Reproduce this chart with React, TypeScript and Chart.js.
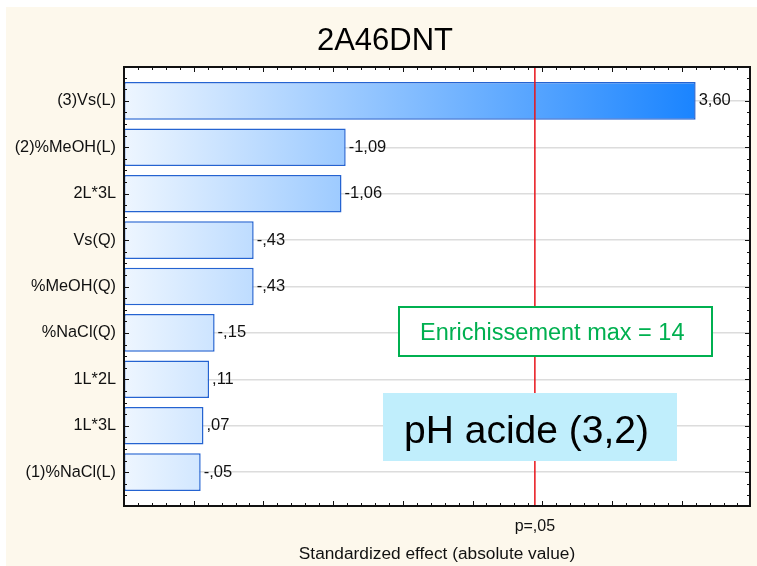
import React, { useEffect, useRef } from "react";
import { Chart, registerables } from "chart.js";

Chart.register(...registerables);

// ---------- data ----------
const categories = [
  "(3)Vs(L)",
  "(2)%MeOH(L)",
  "2L*3L",
  "Vs(Q)",
  "%MeOH(Q)",
  "%NaCl(Q)",
  "1L*2L",
  "1L*3L",
  "(1)%NaCl(L)",
];
const effects = [3.6, -1.09, -1.06, -0.43, -0.43, -0.15, 0.11, 0.07, -0.05];
const criticalT = 2.447;
const criticalLabel = "p=,05";
const chartTitle = "2A46DNT";
const xAxisTitle = "Standardized effect (absolute value)";
const noteGreen = "Enrichissement max = 14";
const noteBlue = "pH acide (3,2)";
const xMin = -0.5;
const xMax = 3.99;
const yMin = -0.73;
const yMax = 8.73;

const FONT = "'Liberation Sans', Arial, sans-serif";

function fmt(v: number): string {
  const s = Math.abs(v).toFixed(2).replace(".", ",");
  const t = s.startsWith("0,") ? s.slice(1) : s;
  return (v < 0 ? "-" : "") + t;
}

const decor = {
  id: "decor",
  beforeDraw(chart: any) {
    const { ctx, chartArea: a, width, height } = chart;
    ctx.save();
    ctx.fillStyle = "#ffffff";
    ctx.fillRect(0, 0, width, height);
    ctx.fillStyle = "#FDF8EC";
    ctx.fillRect(6, 7, width - 6, height - 7);
    ctx.fillStyle = "#ffffff";
    ctx.fillRect(a.left, a.top, a.right - a.left, a.bottom - a.top);
    // chart title
    ctx.fillStyle = "#000";
    ctx.font = `31px ${FONT}`;
    ctx.textAlign = "center";
    ctx.textBaseline = "middle";
    ctx.fillText(chartTitle, 385, 41);
    ctx.restore();
  },
  afterDatasetsDraw(chart: any) {
    const { ctx } = chart;
    const xs = chart.scales.x;
    const ys = chart.scales.y;
    const a = chart.chartArea;
    ctx.save();
    // value labels
    ctx.font = `16.5px ${FONT}`;
    ctx.fillStyle = "#111";
    ctx.textAlign = "left";
    ctx.textBaseline = "middle";
    effects.forEach((v, i) => {
      const px = xs.getPixelForValue(Math.abs(v));
      const py = ys.getPixelForValue(i);
      ctx.fillText(fmt(v), px + 3, py);
    });
    // critical line
    const cx = xs.getPixelForValue(criticalT);
    ctx.strokeStyle = "#E8141B";
    ctx.lineWidth = 1.5;
    ctx.beginPath();
    ctx.moveTo(cx, a.top);
    ctx.lineTo(cx, a.bottom);
    ctx.stroke();
    ctx.restore();
  },
  afterDraw(chart: any) {
    const { ctx } = chart;
    const a = chart.chartArea;
    const xs = chart.scales.x;
    const ys = chart.scales.y;
    ctx.save();
    // tick marks (inward)
    ctx.strokeStyle = "#111";
    ctx.lineWidth = 1;
    ctx.beginPath();
    for (let k = 0; k <= 45; k++) {
      const v = -0.5 + k * 0.1;
      if (v > xMax + 1e-6) continue;
      const px = Math.round(xs.getPixelForValue(v)) + 0.5;
      const major = Math.abs(v * 2 - Math.round(v * 2)) < 1e-6;
      const len = major ? 5 : 3;
      ctx.moveTo(px, a.bottom);
      ctx.lineTo(px, a.bottom - len);
      ctx.moveTo(px, a.top);
      ctx.lineTo(px, a.top + len);
    }
    for (let k = -3; k <= 35; k++) {
      const v = k * 0.25;
      if (v < yMin || v > yMax) continue;
      const py = Math.round(ys.getPixelForValue(v)) + 0.5;
      const major = k % 4 === 0;
      const len = major ? 5 : 3;
      ctx.moveTo(a.left, py);
      ctx.lineTo(a.left + len, py);
      ctx.moveTo(a.right, py);
      ctx.lineTo(a.right - len, py);
    }
    ctx.stroke();
    // frame
    ctx.strokeStyle = "#111";
    ctx.lineWidth = 2;
    ctx.strokeRect(a.left, a.top, a.right - a.left, a.bottom - a.top);

    // green note
    ctx.fillStyle = "#ffffff";
    ctx.fillRect(399, 307, 313, 49);
    ctx.strokeStyle = "#00B050";
    ctx.lineWidth = 2;
    ctx.strokeRect(399, 307, 313, 49);
    ctx.fillStyle = "#00B050";
    ctx.font = `23.5px ${FONT}`;
    ctx.textAlign = "left";
    ctx.textBaseline = "alphabetic";
    ctx.fillText(noteGreen, 420, 340);

    // blue note
    ctx.fillStyle = "#C0EEFC";
    ctx.fillRect(383, 393, 294, 68);
    ctx.fillStyle = "#000";
    ctx.font = `39px ${FONT}`;
    ctx.fillText(noteBlue, 404, 443);
    ctx.restore();
  },
};

export default function App() {
  const ref = useRef<HTMLCanvasElement | null>(null);

  useEffect(() => {
    const canvas = ref.current;
    if (!canvas) return;
    const chart = new Chart(canvas, {
      type: "bar",
      data: {
        datasets: [
          {
            data: effects.map((v, i) => ({ x: Math.abs(v), y: i })) as any,
            base: xMin,
            backgroundColor: (c: any) => {
              const ch = c.chart;
              const area = ch.chartArea;
              if (!area) return "#8EC2FB";
              const xs = ch.scales.x;
              const g = ch.ctx.createLinearGradient(area.left, 0, xs.getPixelForValue(3.6), 0);
              g.addColorStop(0, "#EEF6FF");
              g.addColorStop(1, "#1A84FF");
              return g;
            },
            borderColor: "#2463D1",
            borderWidth: 1.5,
            borderSkipped: false,
            barPercentage: 0.81,
            categoryPercentage: 1,
          } as any,
        ],
      },
      options: {
        indexAxis: "y",
        responsive: false,
        animation: false,
        events: [],
        layout: { padding: { left: 0, right: 7, top: 67, bottom: 0 } },
        scales: {
          x: {
            type: "linear",
            min: xMin,
            max: xMax,
            offset: false,
            bounds: "data",
            afterBuildTicks: (s: any) => {
              s.ticks = [{ value: criticalT }];
            },
            afterFit: (s: any) => {
              s.height = 60;
            },
            grid: { display: false, drawTicks: false },
            border: { display: false },
            ticks: {
              callback: () => criticalLabel,
              font: { size: 16, family: FONT },
              color: "#111",
              padding: 11,
              maxRotation: 0,
              autoSkip: false,
            },
            title: {
              display: true,
              text: xAxisTitle,
              font: { size: 17.3, family: FONT },
              color: "#111",
              padding: { top: 0, bottom: 1 },
            },
          },
          y: {
            type: "linear",
            reverse: true,
            min: yMin,
            max: yMax,
            offset: false,
            bounds: "data",
            afterBuildTicks: (s: any) => {
              s.ticks = categories.map((_, i) => ({ value: i }));
            },
            afterFit: (s: any) => {
              s.width = 124;
            },
            grid: { offset: false, color: "#DCDCDC", lineWidth: 1.5, drawTicks: false },
            border: { display: false },
            ticks: {
              callback: (v: any) => categories[v as number] ?? "",
              font: { size: 16.3, family: FONT },
              color: "#111",
              padding: 8,
              autoSkip: false,
            },
          },
        } as any,
        plugins: {
          legend: { display: false },
          tooltip: { enabled: false },
          title: { display: false },
        },
      } as any,
      plugins: [decor],
    });
    return () => chart.destroy();
  }, []);

  return (
    <div style={{ position: "absolute", left: 0, top: 0, width: 757, height: 566 }}>
      <canvas ref={ref} width={757} height={566} style={{ display: "block" }} />
    </div>
  );
}
